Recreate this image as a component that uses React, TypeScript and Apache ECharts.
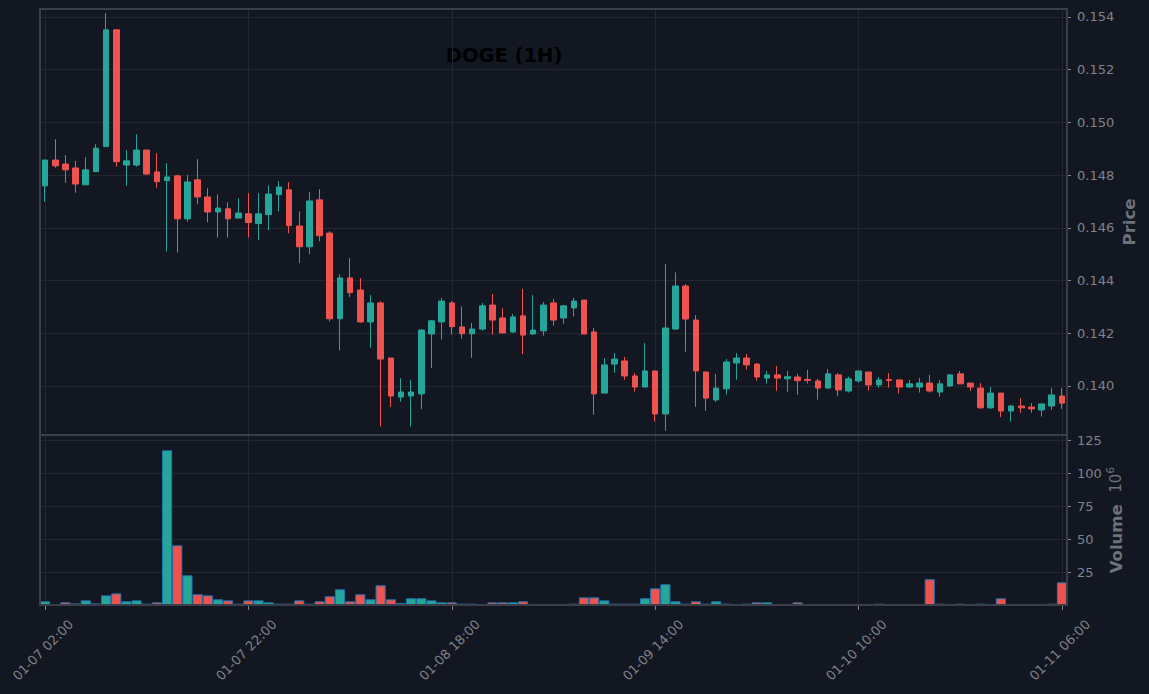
import React, { useEffect, useRef } from 'react';
import * as echarts from 'echarts';

// ---------- data ----------
const START_UTC = Date.UTC(2021, 0, 7, 2, 0);
const HOURS = 101;
const pad = (n: number) => String(n).padStart(2, '0');
const categories: string[] = [];
for (let i = 0; i < HOURS; i++) {
  const d = new Date(START_UTC + i * 3600e3);
  categories.push(`${pad(d.getUTCMonth() + 1)}-${pad(d.getUTCDate())} ${pad(d.getUTCHours())}:${pad(d.getUTCMinutes())}`);
}

const opens = [
  0.14759, 0.14857, 0.14842, 0.14827, 0.14763, 0.14813, 0.14908, 0.15351, 0.14838, 0.14838,
  0.14895, 0.14812, 0.14779, 0.14797, 0.14634, 0.14782, 0.14717, 0.14660, 0.14672, 0.14637,
  0.14653, 0.14616, 0.14650, 0.14726, 0.14744, 0.14607, 0.14528, 0.14706, 0.14580, 0.14255,
  0.14410, 0.14364, 0.14243, 0.14315, 0.14106, 0.13958, 0.13962, 0.13970, 0.14197, 0.14243,
  0.14315, 0.14224, 0.14198, 0.14216, 0.14307, 0.14258, 0.14205, 0.14266, 0.14197, 0.14209,
  0.14315, 0.14258, 0.14296, 0.14326, 0.14205, 0.13973, 0.14083, 0.14095, 0.14038, 0.13996,
  0.14057, 0.13894, 0.14216, 0.14379, 0.14250, 0.14053, 0.13947, 0.13989, 0.14087, 0.14106,
  0.14083, 0.14030, 0.14042, 0.14027, 0.14034, 0.14025, 0.14019, 0.13992, 0.14042, 0.13981,
  0.14019, 0.14053, 0.14004, 0.14024, 0.14023, 0.13996, 0.13996, 0.14011, 0.13977, 0.14000,
  0.14046, 0.14011, 0.13992, 0.13917, 0.13973, 0.13905, 0.13924, 0.13920, 0.13909, 0.13924,
  0.13962,
];
const closes = [
  0.14857, 0.14835, 0.14820, 0.14766, 0.14820, 0.14902, 0.15351, 0.14851, 0.14854, 0.14895,
  0.14804, 0.14775, 0.14793, 0.14634, 0.14774, 0.14717, 0.14660, 0.14675, 0.14634, 0.14656,
  0.14620, 0.14653, 0.14728, 0.14755, 0.14608, 0.14528, 0.14702, 0.14570, 0.14255, 0.14410,
  0.14354, 0.14243, 0.14315, 0.14102, 0.13962, 0.13977, 0.13977, 0.14212, 0.14247, 0.14322,
  0.14225, 0.14198, 0.14216, 0.14304, 0.14250, 0.14201, 0.14262, 0.14193, 0.14212, 0.14307,
  0.14250, 0.14304, 0.14322, 0.14197, 0.13970, 0.14080, 0.14102, 0.14038, 0.13996, 0.14057,
  0.13894, 0.14220, 0.14379, 0.14254, 0.14057, 0.13954, 0.13992, 0.14091, 0.14106, 0.14080,
  0.14034, 0.14042, 0.14030, 0.14035, 0.14020, 0.14021, 0.13992, 0.14046, 0.13985, 0.14027,
  0.14057, 0.14004, 0.14023, 0.14021, 0.13996, 0.14008, 0.14011, 0.13981, 0.14008, 0.14042,
  0.14008, 0.13996, 0.13917, 0.13973, 0.13905, 0.13924, 0.13917, 0.13913, 0.13932, 0.13966,
  0.13935,
];
const lows = [
  0.14699, 0.14828, 0.14771, 0.14733, 0.14763, 0.14813, 0.14908, 0.14832, 0.14760, 0.14832,
  0.14801, 0.14752, 0.14510, 0.14506, 0.14623, 0.14689, 0.14621, 0.14563, 0.14563, 0.14637,
  0.14564, 0.14553, 0.14591, 0.14663, 0.14579, 0.14466, 0.14500, 0.14549, 0.14245, 0.14135,
  0.14337, 0.14240, 0.14145, 0.13846, 0.13921, 0.13940, 0.13846, 0.13912, 0.14069, 0.14176,
  0.14195, 0.14179, 0.14107, 0.14210, 0.14195, 0.14201, 0.14201, 0.14121, 0.14195, 0.14191,
  0.14229, 0.14236, 0.14263, 0.14197, 0.13891, 0.13973, 0.14050, 0.14023, 0.13978, 0.13996,
  0.13865, 0.13830, 0.14212, 0.14130, 0.13921, 0.13906, 0.13940, 0.13967, 0.14024, 0.14062,
  0.14020, 0.14009, 0.13982, 0.13978, 0.13967, 0.14009, 0.13948, 0.13989, 0.13962, 0.13975,
  0.14013, 0.13982, 0.13994, 0.13994, 0.13971, 0.13994, 0.13975, 0.13975, 0.13959, 0.13996,
  0.14008, 0.13982, 0.13913, 0.13913, 0.13882, 0.13865, 0.13898, 0.13898, 0.13884, 0.13909,
  0.13913,
];
const highs = [
  0.14858, 0.14936, 0.14876, 0.14854, 0.14868, 0.14917, 0.15414, 0.15351, 0.14895, 0.14955,
  0.14895, 0.14883, 0.14845, 0.14801, 0.14801, 0.14860, 0.14750, 0.14727, 0.14697, 0.14712,
  0.14731, 0.14731, 0.14761, 0.14777, 0.14773, 0.14663, 0.14735, 0.14746, 0.14587, 0.14424,
  0.14485, 0.14409, 0.14345, 0.14321, 0.14106, 0.14029, 0.14023, 0.14216, 0.14250, 0.14334,
  0.14322, 0.14302, 0.14239, 0.14315, 0.14349, 0.14295, 0.14273, 0.14368, 0.14345, 0.14319,
  0.14330, 0.14307, 0.14334, 0.14326, 0.14220, 0.14106, 0.14125, 0.14110, 0.14049, 0.14163,
  0.14057, 0.14463, 0.14431, 0.14387, 0.14269, 0.14053, 0.14046, 0.14102, 0.14125, 0.14121,
  0.14087, 0.14057, 0.14076, 0.14057, 0.14046, 0.14061, 0.14027, 0.14065, 0.14049, 0.14035,
  0.14057, 0.14053, 0.14034, 0.14049, 0.14023, 0.14023, 0.14030, 0.14042, 0.14023, 0.14046,
  0.14057, 0.14011, 0.14011, 0.13996, 0.13973, 0.13928, 0.13954, 0.13935, 0.13932, 0.13992,
  0.13992,
];
// volume in millions
const volumes = [
  2.8, 0.1, 2.0, 1.2, 3.5, 1.2, 7.3, 8.8, 2.8, 3.5,
  1.0, 2.0, 117.2, 45.2, 22.5, 8.1, 7.3, 4.3, 3.5, 1.0,
  3.5, 3.5, 2.0, 1.0, 1.0, 3.5, 1.0, 2.8, 6.6, 11.9,
  2.8, 8.1, 4.3, 14.9, 4.3, 1.5, 5.1, 5.1, 3.5, 2.0,
  2.0, 1.0, 1.0, 0.1, 2.0, 2.0, 2.0, 2.8, 0.1, 0.1,
  0.1, 0.1, 1.0, 5.8, 5.8, 3.5, 1.0, 1.0, 1.0, 5.1,
  12.6, 15.7, 2.8, 1.0, 2.8, 1.0, 2.8, 1.0, 0.1, 1.0,
  2.0, 2.0, 0.1, 0.1, 2.0, 0.1, 0.1, 0.1, 0.1, 0.1,
  0.1, 0.1, 1.0, 0.1, 0.1, 0.1, 0.1, 19.5, 1.0, 0.1,
  1.0, 0.1, 1.0, 0.1, 5.1, 0.1, 0.1, 0.1, 0.1, 1.0,
  17.2,
];

const priceTicks = [0.14, 0.142, 0.144, 0.146, 0.148, 0.15, 0.152, 0.154];
const volumeTicks = [25, 50, 75, 100, 125];
const PRICE_MIN = 0.13814;
const PRICE_MAX = 0.1543;
const VOL_MAX = 128.8;

// ---------- styles ----------
const BG = '#131722';
const UP = '#26a69a';
const DOWN = '#ef5350';
const EDGE = '#1f77b4';
const FRAME = '#3a3e48';
const GRIDLINE = '#232732';
const LABEL = '#80838a';
const NAME = '#6e7179';
const TICK = '#80838a';
const FONT = 'DejaVu Sans';

export default function App() {
  const ref = useRef<HTMLDivElement>(null);
  useEffect(() => {
    const chart = echarts.init(ref.current!, null, { renderer: 'svg' });
    const candleData = opens.map((o, i) => [o, closes[i], lows[i], highs[i]]);
    const volData = volumes.map((v, i) => ({
      value: v,
      itemStyle: { color: closes[i] >= opens[i] ? UP : DOWN },
    }));
    const gridBase = {
      left: 40,
      right: 82,
      show: true,
      borderColor: FRAME,
      borderWidth: 2,
      backgroundColor: 'transparent',
      z: 5,
      containLabel: false,
      outerBoundsMode: 'none',
    };
    const option: any = {
      animation: false,
      backgroundColor: BG,
      textStyle: { fontFamily: FONT },
      grid: [
        { ...gridBase, top: 9, height: 426 },
        { ...gridBase, top: 435, height: 170 },
      ],
      xAxis: [
        {
          type: 'category',
          gridIndex: 0,
          data: categories,
          boundaryGap: true,
          axisLine: { show: false },
          axisTick: { show: false },
          axisLabel: { show: false },
          splitLine: { show: true, interval: 19, alignWithLabel: true, lineStyle: { color: GRIDLINE, width: 1 } },
        },
        {
          type: 'category',
          gridIndex: 1,
          data: categories,
          boundaryGap: true,
          axisLine: { show: false },
          axisTick: { show: true, interval: 19, alignWithLabel: true, length: 5, lineStyle: { color: TICK, width: 1 } },
          axisLabel: {
            show: true,
            interval: 19,
            rotate: 45,
            align: 'center',
            verticalAlign: 'middle',
            margin: 43,
            padding: [0, 6, 0, 0],
            color: LABEL,
            fontSize: 13,
            fontFamily: FONT,
            hideOverlap: false,
          },
          splitLine: { show: true, interval: 19, alignWithLabel: true, lineStyle: { color: GRIDLINE, width: 1 } },
        },
      ],
      yAxis: [
        {
          type: 'value',
          gridIndex: 0,
          position: 'right',
          min: PRICE_MIN,
          max: PRICE_MAX,
          splitNumber: 8,
          scale: true,
          axisLine: { show: false },
          axisTick: { show: true, length: 4, customValues: priceTicks, lineStyle: { color: TICK } },
          axisLabel: {
            customValues: priceTicks,
            formatter: (v: number) => v.toFixed(3),
            color: LABEL,
            fontSize: 13,
            fontFamily: FONT,
            margin: 10,
          },
          splitLine: { show: true, lineStyle: { color: GRIDLINE, width: 1 } },
          name: 'Price',
          nameLocation: 'middle',
          nameMoveOverlap: false,
          nameGap: 54,
          nameTextStyle: { color: NAME, fontSize: 16.5, fontWeight: 'bold', fontFamily: FONT },
        },
        {
          type: 'value',
          gridIndex: 1,
          position: 'right',
          min: 0,
          max: VOL_MAX,
          interval: 25,
          axisLine: { show: false },
          axisTick: { show: true, length: 4, customValues: volumeTicks, lineStyle: { color: TICK } },
          axisLabel: {
            customValues: volumeTicks,
            color: LABEL,
            fontSize: 13,
            fontFamily: FONT,
            margin: 10,
          },
          splitLine: { show: true, lineStyle: { color: GRIDLINE, width: 1 } },
          name: '{b|Volume  }{n|10}{s|6}',
          nameLocation: 'middle',
          nameMoveOverlap: false,
          nameGap: 38,
          nameTextStyle: {
            color: NAME,
            rich: {
              b: { fontSize: 16.5, fontWeight: 'bold', color: NAME, fontFamily: FONT, lineHeight: 22 },
              n: { fontSize: 15, color: NAME, fontFamily: FONT, lineHeight: 22 },
              s: { fontSize: 11, color: NAME, fontFamily: FONT, lineHeight: 12, verticalAlign: 'top' },
            },
          },
        },
      ],
      graphic: [
        {
          type: 'text',
          x: 504,
          y: 55.5,
          silent: true,
          style: {
            text: 'DOGE (1H)',
            fill: '#000000',
            fontSize: 19.5,
            fontWeight: 'bold',
            fontFamily: FONT,
            align: 'center',
            verticalAlign: 'middle',
          },
        },
      ],
      series: [
        {
          type: 'candlestick',
          xAxisIndex: 0,
          yAxisIndex: 0,
          data: candleData,
          barWidth: '60%',
          silent: true,
          itemStyle: { color: UP, color0: DOWN, borderColor: UP, borderColor0: DOWN, borderWidth: 1 },
        },
        {
          type: 'bar',
          xAxisIndex: 1,
          yAxisIndex: 1,
          data: volData,
          barWidth: '100%',
          silent: true,
          itemStyle: { borderColor: EDGE, borderWidth: 1 },
        },
      ],
    };
    chart.setOption(option);
    return () => chart.dispose();
  }, []);
  return <div ref={ref} style={{ position: 'absolute', left: 0, top: 0, width: 1149, height: 694 }} />;
}
